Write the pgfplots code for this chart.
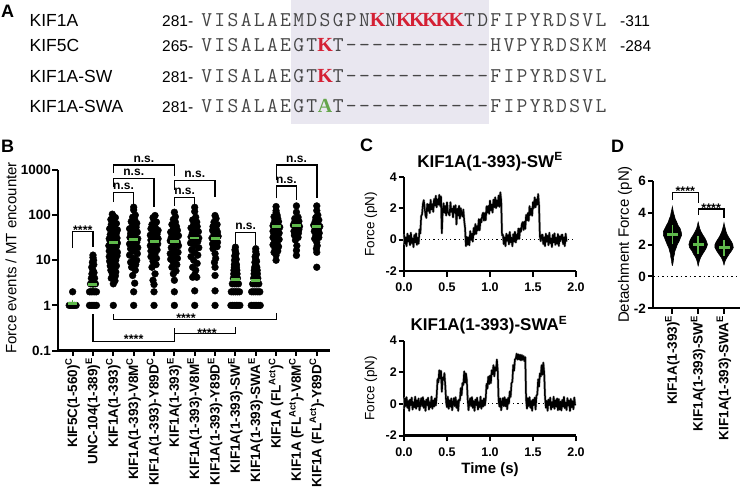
\documentclass[border=0pt]{standalone}
\usepackage{fontspec}
\setmainfont{Liberation Sans}
\newfontfamily\kfont{Liberation Serif}
\usepackage{pgfplots}
\pgfplotsset{compat=1.18}
\usepackage{pgfplotstable}
\definecolor{mgreen}{RGB}{95,185,75}
\definecolor{kred}{RGB}{212,32,52}
\definecolor{agreen}{RGB}{100,165,75}
\definecolor{boxgray}{RGB}{233,231,240}
\definecolor{seqgray}{RGB}{70,70,70}
\newcommand{\fs}[1]{\fontsize{#1bp}{#1bp}\selectfont}
\newcommand{\rk}{\textcolor{kred}{\kfont\bfseries\fs{20}K}}
\newcommand{\ga}{\textcolor{agreen}{\kfont\bfseries\fs{20}A}}
\makeatletter
\newcommand{\fixedseq}[1]{\@tfor\sq@c:=#1\do{\makebox[13.14bp][c]{\sq@c}}}
\makeatother

\pgfplotsset{
 prism/.style={
  scale only axis, anchor=south west, clip=false,
  axis x line*=bottom, axis y line*=left,
  axis line style={-, line width=2.2bp},
  every tick/.style={black, line width=2bp},
  major tick length=5.5bp,
  tick align=outside,
  tick label style={font=\fs{13.5}\bfseries, inner sep=1.5bp},
  yminorticks=false, xminorticks=false,
 },
 meanbar/.style={only marks, mgreen, mark=-, mark size=#1, mark options={line width=2.8bp},
   error bars/.cd, y dir=both, y explicit,
   error bar style={line width=1.6bp, mgreen},
   error mark options={mgreen, line width=1.6bp, mark size=3bp}},
 trace/.style={line width=#1, line join=round},
}

\pgfplotstableread[header=false,row sep=\\]{
0.32\\-0.28\\0.15\\-0.41\\0.38\\-0.12\\0.25\\-0.35\\0.44\\-0.22\\
0.08\\-0.47\\0.30\\-0.18\\0.40\\-0.33\\0.12\\-0.26\\0.66\\0.40\\
1.51\\1.61\\2.28\\2.52\\2.02\\1.55\\1.39\\2.28\\1.83\\2.25\\
1.70\\2.54\\1.93\\2.28\\1.78\\2.60\\2.17\\2.80\\2.07\\2.57\\
2.24\\2.86\\2.15\\2.76\\0.41\\1.88\\2.32\\1.72\\2.15\\1.54\\
2.38\\1.78\\1.65\\1.55\\2.39\\1.78\\1.98\\1.43\\2.15\\1.72\\
2.20\\0.97\\1.97\\1.54\\2.16\\1.35\\2.01\\1.61\\1.48\\1.92\\
1.22\\0.75\\-0.41\\0.18\\-0.32\\0.15\\-0.35\\0.54\\-0.02\\0.38\\
-0.12\\0.75\\0.32\\1.00\\0.37\\0.87\\0.59\\1.31\\0.60\\1.31\\
1.11\\1.58\\1.72\\1.22\\1.70\\1.24\\2.13\\1.73\\2.15\\1.65\\
2.49\\1.88\\2.23\\1.73\\2.55\\2.07\\2.70\\2.02\\2.52\\2.14\\
2.81\\2.10\\3.02\\2.51\\0.28\\0.32\\-0.28\\0.15\\-0.41\\0.38\\
-0.07\\0.30\\-0.30\\0.49\\-0.17\\0.13\\-0.42\\0.35\\-0.13\\0.50\\
-0.18\\0.32\\0.04\\0.71\\0.05\\0.71\\0.51\\0.98\\1.12\\0.62\\
1.15\\0.69\\1.58\\1.23\\1.70\\1.20\\2.14\\1.58\\1.98\\1.53\\
2.40\\2.02\\2.70\\2.07\\2.57\\2.24\\2.91\\2.20\\0.21\\-0.09\\
0.28\\0.32\\-0.28\\0.15\\-0.41\\0.38\\-0.12\\0.25\\-0.35\\0.44\\
-0.22\\0.08\\-0.47\\0.30\\-0.18\\0.40\\-0.33\\0.12\\-0.26\\0.36\\
-0.40\\0.21\\-0.09\\0.28\\0.32\\-0.28\\0.15\\-0.41\\0.38\\-0.12\\
}\traceSW

\pgfplotstableread[header=false,row sep=\\]{
-0.30\\0.36\\-0.14\\0.42\\-0.25\\0.18\\-0.44\\0.27\\-0.08\\0.39\\
-0.36\\0.11\\-0.21\\0.45\\-0.31\\0.22\\-0.17\\0.34\\-0.40\\-0.05\\
0.36\\-0.14\\0.42\\-0.25\\0.18\\-0.44\\0.27\\-0.08\\0.39\\-0.36\\
0.11\\-0.21\\0.45\\-0.31\\0.22\\-0.17\\0.34\\-0.10\\0.50\\1.56\\
1.36\\2.12\\1.60\\2.08\\0.76\\1.67\\1.52\\1.94\\1.14\\0.11\\
-0.21\\0.45\\-0.31\\0.22\\-0.17\\0.34\\-0.40\\0.05\\0.36\\-0.14\\
0.42\\-0.25\\0.18\\-0.44\\0.27\\0.22\\0.99\\0.54\\1.31\\1.19\\
2.05\\1.34\\1.92\\1.53\\0.34\\-0.40\\0.05\\0.36\\-0.14\\0.42\\
-0.25\\0.18\\-0.44\\0.27\\-0.08\\0.39\\-0.36\\0.11\\-0.21\\0.45\\
-0.31\\0.22\\-0.17\\0.34\\-0.10\\0.30\\1.26\\0.96\\1.72\\1.25\\
1.78\\1.31\\2.12\\1.87\\2.44\\1.74\\2.31\\2.09\\2.80\\2.09\\
0.22\\-0.17\\0.34\\-0.40\\0.05\\0.36\\-0.14\\0.42\\-0.15\\0.28\\
-0.34\\0.37\\0.02\\0.79\\0.44\\1.31\\1.39\\2.45\\2.09\\2.81\\
2.86\\3.17\\2.80\\3.12\\2.80\\3.10\\2.75\\3.08\\2.78\\3.02\\
2.70\\2.95\\0.25\\-0.30\\0.36\\-0.14\\0.42\\-0.25\\0.18\\-0.44\\
0.27\\-0.08\\0.39\\-0.36\\0.51\\0.59\\1.55\\1.09\\1.92\\1.73\\
2.44\\1.85\\2.60\\1.96\\0.42\\-0.25\\0.18\\-0.44\\0.27\\-0.08\\
0.39\\-0.36\\0.11\\-0.21\\0.45\\-0.31\\0.22\\-0.17\\0.34\\-0.40\\
0.30\\-0.36\\0.14\\-0.42\\0.25\\-0.18\\0.44\\-0.27\\0.08\\-0.39\\
0.36\\-0.11\\0.21\\-0.45\\0.31\\-0.22\\0.17\\-0.34\\0.40\\-0.10\\
}\traceSWA

\begin{document}
\begin{tikzpicture}
\path[use as bounding box] (0,0) rectangle (742bp,-494bp);

% ---------------- Panel A ----------------
\begin{scope}[x=1bp,y=-1bp]
\fill[boxgray] (291,0) rectangle (489,124);
\tikzset{lab/.style={anchor=base west, inner sep=0pt, font=\fs{17.5}},
         num/.style={anchor=base west, inner sep=0pt, font=\fs{15.5}},
         seq/.style={anchor=base west, inner sep=0pt, font=\ttfamily\fs{21}, text=seqgray}}
\node[anchor=base west, inner sep=0pt, font=\fs{18}\bfseries] at (1,17) {A};
\node[lab] at (29.5,26) {KIF1A};
\node[lab] at (29.5,51) {KIF5C};
\node[lab] at (29.5,82) {KIF1A-SW};
\node[lab] at (29.5,112) {KIF1A-SWA};
\node[num] at (162,26) {281-};
\node[num] at (162,51) {265-};
\node[num] at (162,82) {281-};
\node[num] at (162,112) {281-};
\node[seq] at (200,26) {\fixedseq{VISALAEMDSGPN\rk N\rk\rk\rk\rk\rk TDFIPYRDSVL}};
\node[seq] at (200,51) {\fixedseq{VISALAEGT\rk T-----------HVPYRDSKM}};
\node[seq] at (200,82) {\fixedseq{VISALAEGT\rk T-----------FIPYRDSVL}};
\node[seq] at (200,112) {\fixedseq{VISALAEGT\ga T-----------FIPYRDSVL}};
\node[num] at (620,26) {-311};
\node[num] at (620,51) {-284};
\end{scope}

% ---------------- Panel B ----------------
\begin{axis}[prism, at={(58bp,-350.5bp)}, width=272bp, height=180.5bp,
  ymode=log, ymin=0.1, ymax=1000, xmin=-0.72, xmax=12.65,
  ytick={0.1,1,10,100,1000}, yticklabels={0.1,1,10,100,1000},
  xtick={0,1,...,12},
  xticklabels={{KIF5C(1-560)\textsuperscript{C}},{UNC-104(1-389)\textsuperscript{E}},{KIF1A(1-393)\textsuperscript{C}},{KIF1A(1-393)-V8M\textsuperscript{C}},{KIF1A(1-393)-Y89D\textsuperscript{C}},{KIF1A(1-393)\textsuperscript{E}},{KIF1A(1-393)-V8M\textsuperscript{E}},{KIF1A(1-393)-Y89D\textsuperscript{E}},{KIF1A(1-393)-SW\textsuperscript{E}},{KIF1A(1-393)-SWA\textsuperscript{E}},{KIF1A (FL\textsuperscript{Act})\textsuperscript{C}},{KIF1A (FL\textsuperscript{Act})-V8M\textsuperscript{C}},{KIF1A (FL\textsuperscript{Act})-Y89D\textsuperscript{C}}},
  x tick label style={rotate=90, anchor=east, font=\fs{13.5}\bfseries}]
\addplot[only marks, mark=*, mark size=3.4bp, black] coordinates {
(-0.17,1)(-0.08,1)(0,1)(0.08,1)(0.17,1)(0,2)
(0.83,1)(0.91,1)(1,1)(1.09,1)(1.17,1)
(0.83,2)(0.91,2)(1,2)(1.09,2)(1.17,2)
(0.88,3)(0.96,3)(1.04,3)(1.12,3)(0.92,4)(1.08,4)(0.95,5)(1.05,5.3)
(1,6)(0.94,7)(1.04,8)(0.97,9)(1.03,10)(1,11.5)(1,13)
(2,1)(2,3)(2.08,3.5)(1.9,4)(2.1,4.5)(1.95,5)(2.12,5.5)(1.88,6)(2.05,6.5)(1.85,7.5)(2.15,7.5)(2,8.5)
(1.82,9.5)(2.12,10)(2,11)(1.8,12)(2.18,12.5)(1.95,14)(2.2,15)(1.8,16)(2.05,17)(1.88,19)(2.15,20)
(1.78,21)(2,23)(2.2,24)(1.85,26)(2.08,28)(1.8,30)(2.18,31)(2,34)(1.85,37)(2.15,40)(1.95,44)(2.2,47)
(1.82,50)(2.05,55)(1.9,62)(2.15,65)(2,72)(1.88,80)(2.1,88)(2,95)(1.95,105)
(3,1)(3,2)(3.05,3.1)(2.95,4.6)(3.08,6)(2.9,7)(3.1,8)(2.85,9)(3.15,10)(3,11)(2.8,13)(3.18,14)(3,16)
(2.85,18)(3.2,19)(3,21)(2.8,23)(3.15,25)(2.95,27)(3.2,30)(2.82,32)(3.05,35)(2.85,39)(3.18,42)(3,46)
(2.8,50)(3.12,54)(2.95,60)(3.15,66)(2.88,72)(3.05,80)(2.95,90)(3.08,100)(3,130)(3,150)
(4,1)(4,2)(4,2.9)(3.95,3.6)(4.05,5)(3.9,7)(4.1,8)(3.95,9.5)(4.12,11)(3.85,12)(4.05,14)(3.85,16)
(4.15,17)(4,19)(3.82,21)(4.18,23)(4,25)(3.85,28)(4.2,30)(4,33)(3.82,36)(4.15,38)(3.95,42)(4.2,46)
(3.85,50)(4.05,55)(3.9,62)(4.12,70)(4,78)(3.95,88)(4.05,98)
(5,1)(5,2)(5,3.6)(4.95,5)(5.08,5.8)(4.88,7)(5.12,8)(4.95,9)(4.82,10.5)(5.15,11)(5,12.5)(4.8,14)
(5.18,15)(5,17)(4.85,19)(5.2,21)(4.95,23)(5.15,25)(4.8,27)(5.05,29)(4.85,32)(5.2,35)(5,38)(4.82,42)
(5.15,46)(4.95,50)(5.1,56)(4.88,62)(5.05,70)(4.95,80)(5.05,92)(5,116)
(6,1)(6,2.1)(5.9,4.2)(6.1,4.2)(6,4.8)(6.05,6)(5.9,7)(6.12,8.5)(5.95,10)(5.82,12)(6.15,13)(6,15)
(5.85,17)(6.2,19)(6,21)(5.8,24)(6.15,26)(5.95,28)(6.2,31)(5.82,33)(6.05,36)(5.88,40)(6.18,43)(6,47)
(5.82,52)(6.12,56)(5.95,62)(6.1,70)(5.9,78)(6.05,90)(6,120)(6,149)
(7,1)(7,2.1)(7,4.6)(7,7)(6.97,9)(7.03,11)(7,14)(6.9,18)(7.1,20)(6.88,23)(7.12,25)(7,28)(6.85,31)
(7.15,34)(6.95,38)(7.12,42)(6.88,46)(7.05,50)(6.9,56)(7.1,62)(6.95,70)(7.05,84)(7,98)
(7.78,1)(7.87,1)(7.96,1)(8.04,1)(8.13,1)(8.22,1)(7.8,2)(7.9,2)(8,2)(8.1,2)(8.2,2)
(7.85,3)(7.95,3)(8.05,3)(8.15,3)(7.9,4)(8,4)(8.1,4)(7.92,5)(8.08,5)(7.93,6)(8.07,6)(7.95,7)(8.05,7)
(7.95,8)(8.05,8)(8,9)(7.96,10)(8.04,10.5)(8,11.5)(7.97,12.5)(8.03,14)(8,15.5)(7.98,17)(8,19.5)
(8.78,1)(8.87,1)(8.96,1)(9.04,1)(9.13,1)(9.22,1)(8.8,2)(8.9,2)(9,2)(9.1,2)(9.2,2)
(8.85,3)(8.95,3)(9.05,3)(9.15,3)(8.9,4)(9,4)(9.1,4)(8.92,5)(9.08,5)(8.93,6)(9.07,6)(8.95,7)(9.05,7)
(9,8)(8.96,9)(9.04,9.5)(9,10.5)(8.97,12)(9.03,13.5)(9,15.5)(9,18)
(10,10)(10,13)(9.9,15)(10.08,16)(9.95,18)(10.12,20)(9.85,22)(10.05,24)(9.92,27)(10.15,29)(9.85,32)
(10.05,35)(9.9,38)(10.15,40)(9.85,44)(10.05,47)(9.92,50)(10.18,54)(9.85,58)(10.05,62)(9.9,67)
(10.12,72)(9.95,78)(10.08,85)(9.9,92)(10.05,100)(10,112)(10,125)(10,155)
(11,12.8)(11,16.5)(11.02,21)(10.95,28)(11.08,32)(10.9,36)(11.1,40)(10.88,44)(11.12,48)(10.95,52)
(11.15,56)(10.85,60)(11.05,64)(10.9,68)(11.12,73)(11,78)(10.92,84)(11.08,90)(11,116)(11,160)
(12,7)(12,15)(11.98,18)(12.02,21)(12,25)(11.9,30)(12.1,32)(11.95,36)(12.12,40)(11.88,44)(12.08,48)
(11.92,52)(12.15,56)(11.85,60)(12.05,65)(11.92,72)(12.1,78)(11.95,88)(12.05,100)(12,126)(12,160)
};
\addplot[meanbar=4.5bp] coordinates {
(0,1.1) +- (0,0.05)
(1,2.95) +- (0,0.35)
(2,25) +- (0,4.5)
(3,28.5) +- (0,5.5)
(4,26) +- (0,5)
(5,26) +- (0,4.5)
(6,31) +- (0,5.5)
(7,30) +- (0,5.5)
(8,3.8) +- (0,0.4)
(9,3.5) +- (0,0.35)
(10,57) +- (0,9)
(11,58) +- (0,8)
(12,57) +- (0,10)
};
\end{axis}

% ---------------- Panel C (top) ----------------
\begin{axis}[prism, at={(404bp,-271bp)}, width=172bp, height=94bp,
  xmin=0, xmax=2, ymin=-2, ymax=4,
  xtick={0,0.5,1,1.5,2}, xticklabels={0.0,0.5,1.0,1.5,2.0},
  ytick={-2,0,2,4}, yticklabels={-2,0,2,4},
  tick label style={font=\fs{12.5}\bfseries},
  x tick label style={yshift=-5bp}]
\addplot[black, line width=1bp, dash pattern=on 1.2bp off 3bp] coordinates {(0,0) (2,0)};
\addplot[gray!65, trace=2.5bp] table[x expr=\coordindex*0.01, y index=0] {\traceSW};
\addplot[black, trace=1.5bp] table[x expr=\coordindex*0.01, y index=0] {\traceSW};
\end{axis}

% ---------------- Panel C (bottom) ----------------
\begin{axis}[prism, at={(404bp,-435.5bp)}, width=172bp, height=95bp,
  xmin=0, xmax=2, ymin=-2, ymax=4,
  xtick={0,0.5,1,1.5,2}, xticklabels={0.0,0.5,1.0,1.5,2.0},
  ytick={-2,0,2,4}, yticklabels={-2,0,2,4},
  tick label style={font=\fs{12.5}\bfseries},
  x tick label style={yshift=-5bp}]
\addplot[black, line width=1bp, dash pattern=on 1.2bp off 3bp] coordinates {(0,0) (2,0)};
\addplot[gray!65, trace=2.5bp] table[x expr=\coordindex*0.01, y index=0] {\traceSWA};
\addplot[black, trace=1.5bp] table[x expr=\coordindex*0.01, y index=0] {\traceSWA};
\end{axis}

% ---------------- Panel D ----------------
\begin{axis}[prism, at={(653bp,-308.3bp)}, width=87bp, height=127.6bp,
  xmin=-0.75, xmax=2.62, ymin=-2, ymax=6,
  ytick={-2,0,2,4,6}, yticklabels={-2,0,2,4,6},
  xtick={0,1,2},
  xticklabels={{KIF1A(1-393)\textsuperscript{E}},{KIF1A(1-393)-SW\textsuperscript{E}},{KIF1A(1-393)-SWA\textsuperscript{E}}},
  x tick label style={rotate=90, anchor=east, font=\fs{13.5}\bfseries}]
\addplot[black, line width=1.6bp, dash pattern=on 1.6bp off 3bp] coordinates {(-0.75,0) (2.62,0)};
\addplot[fill=black, draw=black, line width=0.6bp] coordinates {
(0,0.67)(0.02,0.8)(0.04,1.0)(0.05,1.2)(0.08,1.4)(0.1,1.6)(0.15,1.8)(0.19,2.0)(0.26,2.2)(0.31,2.4)
(0.36,2.6)(0.34,2.8)(0.3,3.0)(0.22,3.2)(0.17,3.4)(0.11,3.6)(0.08,3.8)(0.04,4.0)(0.02,4.2)(0,4.37)
(-0.02,4.2)(-0.05,4.0)(-0.07,3.8)(-0.12,3.6)(-0.16,3.4)(-0.23,3.2)(-0.29,3.0)(-0.35,2.8)(-0.35,2.6)
(-0.3,2.4)(-0.25,2.2)(-0.2,2.0)(-0.14,1.8)(-0.11,1.6)(-0.07,1.4)(-0.06,1.2)(-0.03,1.0)(-0.02,0.8)(0,0.67)};
\addplot[fill=black, draw=black, line width=0.6bp] coordinates {
(1,0.63)(1.02,0.8)(1.05,1.0)(1.1,1.2)(1.17,1.4)(1.25,1.6)(1.32,1.8)(1.36,2.0)(1.32,2.2)(1.26,2.4)
(1.18,2.6)(1.11,2.8)(1.06,3.0)(1.03,3.2)(1,3.4)
(0.97,3.2)(0.94,3.0)(0.88,2.8)(0.81,2.6)(0.73,2.4)(0.67,2.2)(0.64,2.0)(0.67,1.8)(0.76,1.6)(0.82,1.4)
(0.9,1.2)(0.95,1.0)(0.98,0.8)(1,0.63)};
\addplot[fill=black, draw=black, line width=0.6bp] coordinates {
(2,0.7)(2.02,0.85)(2.05,1.0)(2.12,1.2)(2.2,1.4)(2.29,1.6)(2.36,1.8)(2.34,2.0)(2.28,2.2)(2.2,2.4)
(2.13,2.6)(2.08,2.8)(2.05,3.0)(2.02,3.2)(2,3.35)
(1.98,3.2)(1.95,3.0)(1.91,2.8)(1.86,2.6)(1.79,2.4)(1.71,2.2)(1.65,2.0)(1.65,1.8)(1.72,1.6)(1.8,1.4)
(1.89,1.2)(1.95,1.0)(1.98,0.85)(2,0.7)};
\addplot[meanbar=5.5bp] coordinates {
(0,2.62) +- (0,0.42)
(1,1.98) +- (0,0.36)
(2,1.80) +- (0,0.31)
};
\end{axis}

% ---------------- annotations ----------------
\begin{scope}[x=1bp,y=-1bp]
\tikzset{br/.style={line width=1.3bp, black},
  ast/.style={anchor=base, inner sep=0pt, font=\fs{12.5}\bfseries},
  ns/.style={anchor=base, inner sep=0pt, font=\fs{12}\bfseries}}
\node[anchor=base west, inner sep=0pt, font=\fs{18}\bfseries] at (1,152) {B};
\node[anchor=base west, inner sep=0pt, font=\fs{18}\bfseries] at (360,151) {C};
\node[anchor=base west, inner sep=0pt, font=\fs{18}\bfseries] at (611,152) {D};
\node[rotate=90, font=\fs{15}] at (11,258) {Force events / MT encounter};
\node[rotate=90, font=\fs{13.5}] at (371,224) {Force (pN)};
\node[rotate=90, font=\fs{13.5}] at (371,388) {Force (pN)};
\node[rotate=90, font=\fs{15}] at (625,244.5) {Detachment Force (pN)};
\node[font=\fs{15}\bfseries] at (490,470) {Time (s)};
\node[font=\fs{17}\bfseries] at (490,161.7) {KIF1A(1-393)-SW\textsuperscript{E}};
\node[font=\fs{17}\bfseries] at (489,325) {KIF1A(1-393)-SWA\textsuperscript{E}};
% B top brackets
\draw[br] (72.7,248) -- (72.7,231.7) -- (93.0,231.7) -- (93.0,247);
\node[ast] at (82.85,234.5) {****};
\draw[br] (113.4,202) -- (113.4,192.5) -- (133.7,192.5) -- (133.7,203.5);
\node[ns] at (123.55,189.5) {n.s.};
\draw[br] (113.4,187) -- (113.4,178.5) -- (154.1,178.5) -- (154.1,206.5);
\node[ns] at (133.75,175.5) {n.s.};
\draw[br] (113.4,173) -- (113.4,165) -- (174.4,165) -- (174.4,176);
\node[ns] at (143.9,162) {n.s.};
\draw[br] (174.4,206) -- (174.4,197.3) -- (194.8,197.3) -- (194.8,206.5);
\node[ns] at (184.6,194.3) {n.s.};
\draw[br] (174.4,190) -- (174.4,180.7) -- (215.1,180.7) -- (215.1,196.7);
\node[ns] at (194.75,177.7) {n.s.};
\draw[br] (235.5,245) -- (235.5,232.7) -- (255.8,232.7) -- (255.8,245);
\node[ns] at (245.65,229.7) {n.s.};
\draw[br] (276.2,198.3) -- (276.2,186) -- (296.5,186) -- (296.5,200);
\node[ns] at (286.35,183) {n.s.};
\draw[br] (276.2,180) -- (276.2,165) -- (316.9,165) -- (316.9,198.3);
\node[ns] at (296.55,162) {n.s.};
% B bottom brackets
\draw[br] (93.0,314) -- (93.0,341.7) -- (174.4,341.7) -- (174.4,328);
\node[ast] at (133.7,343) {****};
\draw[br] (113.4,314) -- (113.4,319.3) -- (276.2,319.3) -- (276.2,313);
\node[ast] at (186,322.8) {****};
\draw[br] (174.4,333.3) -- (235.5,333.3) -- (235.5,327);
\node[ast] at (207,337) {****};
% D brackets
\draw[br] (672.3,200) -- (672.3,192.3) -- (698.3,192.3) -- (698.3,203);
\node[ast] at (685.3,195.5) {****};
\draw[br] (698.3,215) -- (698.3,209) -- (724,209) -- (724,218);
\node[ast] at (711.2,212) {****};
\end{scope}
\end{tikzpicture}
\end{document}
